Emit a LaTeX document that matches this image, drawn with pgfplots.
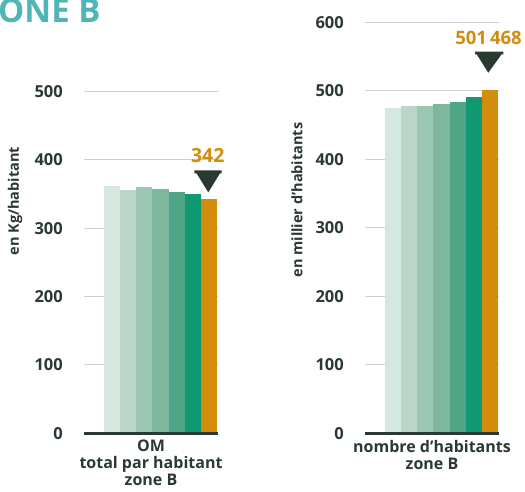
\documentclass[border=0pt]{standalone}
\usepackage{pgfplots}
\pgfplotsset{compat=1.18}
\usepackage{fontspec}
\setmainfont{Open Sans}

\definecolor{txt}{HTML}{2A3A31}
\definecolor{titre}{HTML}{50B5B7}
\definecolor{orng}{HTML}{D18D0B}
\definecolor{gridc}{HTML}{D0D0D0}
\definecolor{gA}{HTML}{D5E7DE}
\definecolor{gB}{HTML}{B9D6C8}
\definecolor{gC}{HTML}{9CC7B3}
\definecolor{gD}{HTML}{7DB89D}
\definecolor{gE}{HTML}{4FA585}
\definecolor{gF}{HTML}{109873}

\pgfplotsset{
  zone/.style={
    scale only axis, anchor=south west, width=134pt,
    xmin=0, xmax=134, ymin=0,
    axis x line*=bottom, axis y line*=left,
    x axis line style={draw=none}, y axis line style={draw=none},
    xtick=\empty, major tick length=0pt,
    ymajorgrids, grid style={line width=1pt, gridc},
    /pgf/number format/assume math mode=true,
    yticklabel style={font=\fontsize{16.5}{16.5}\selectfont\bfseries, text=txt,
      inner sep=0pt, anchor=east, xshift=-21pt},
    clip=false,
  },
  barre/.style={ybar, bar width=16.14pt, bar shift=0pt, draw=none, fill=#1},
}

\begin{document}
\begin{tikzpicture}
\path[use as bounding box] (0pt,0pt) rectangle (525pt,-491pt);

\node[anchor=base west, inner sep=0pt, font=\fontsize{33}{33}\selectfont\bfseries, text=titre]
  at (-2pt,-22.7pt) {ONE B};

% OM par habitant
\begin{axis}[zone, at={(84pt,-433.3pt)}, height=342pt, ymax=500, ytick={0,100,...,500}]
\addplot[barre=gA] coordinates {(28.07,361.5)};
\addplot[barre=gB] coordinates {(44.21,355.8)};
\addplot[barre=gC] coordinates {(60.35,360.1)};
\addplot[barre=gD] coordinates {(76.49,357.2)};
\addplot[barre=gE] coordinates {(92.63,352.8)};
\addplot[barre=gF] coordinates {(108.77,349.9)};
\addplot[barre=orng] coordinates {(124.91,342)};
\addplot[line width=3pt, txt] coordinates {(0,0) (134,0)};
\addplot[fill=txt, draw=none] coordinates {(110.3,384.5) (137.7,384.5) (137.7,380.1) (136,380.1) (124.3,352.3) (112.6,380.1) (110.3,380.1)} --cycle;
\node[font=\fontsize{19.5}{19.5}\selectfont\bfseries, text=orng] at (axis cs:123.8,405.7) {342};
\end{axis}

% nombre d'habitants
\begin{axis}[zone, at={(365pt,-433.3pt)}, height=411pt, ymax=600, ytick={0,100,...,600}]
\addplot[barre=gA] coordinates {(28.07,475)};
\addplot[barre=gB] coordinates {(44.21,478)};
\addplot[barre=gC] coordinates {(60.35,478)};
\addplot[barre=gD] coordinates {(76.49,481)};
\addplot[barre=gE] coordinates {(92.63,484)};
\addplot[barre=gF] coordinates {(108.77,491)};
\addplot[barre=orng] coordinates {(124.91,501.468)};
\addplot[line width=3pt, txt] coordinates {(0,0) (134,0)};
\addplot[fill=txt, draw=none] coordinates {(110,557.1) (138.3,557.1) (138.3,553.3) (136.6,553.3) (123.3,526.4) (111.7,553.3) (110,553.3)} --cycle;
\node[font=\fontsize{18.5}{18.5}\selectfont\bfseries, text=orng] at (axis cs:123.5,576.6) {501\,468};
\end{axis}

\node[rotate=90, font=\fontsize{14.5}{14.5}\selectfont\bfseries, text=txt] at (15pt,-201pt) {en Kg/habitant};
\node[rotate=90, font=\fontsize{14.5}{14.5}\selectfont\bfseries, text=txt] at (297pt,-200pt) {en millier d’habitants};

\node[align=center, anchor=north, font=\fontsize{16}{17}\selectfont\bfseries, text=txt, inner sep=0pt]
  at (151pt,-440pt) {OM\\total par habitant\\zone B};
\node[align=center, anchor=north, font=\fontsize{16}{17}\selectfont\bfseries, text=txt, inner sep=0pt]
  at (432pt,-440pt) {nombre d’habitants\\zone B};
\end{tikzpicture}
\end{document}
